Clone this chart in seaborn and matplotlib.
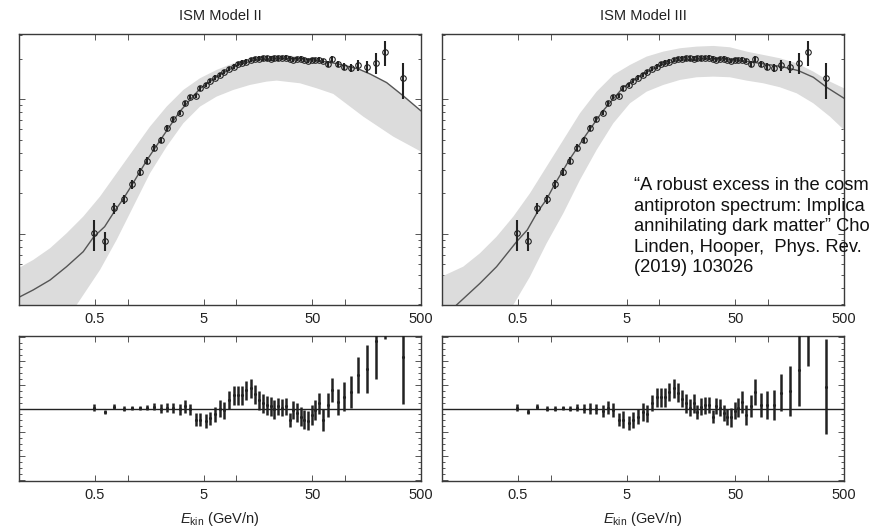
import numpy as np
import matplotlib
matplotlib.use("Agg")
import matplotlib.pyplot as plt
import seaborn as sns
from matplotlib.ticker import (FixedLocator, FixedFormatter, LogLocator,
                               MultipleLocator, NullFormatter, NullLocator)

sns.set_style("ticks")
plt.rcParams['font.family'] = ['Liberation Sans', 'DejaVu Sans']
plt.rcParams['mathtext.fontset'] = 'custom'
plt.rcParams['mathtext.rm'] = 'Liberation Sans'
plt.rcParams['mathtext.it'] = 'Liberation Sans:italic'

# ---------------- data ----------------
energy = [0.486, 0.614, 0.753, 0.918, 1.095, 1.288, 1.505, 1.746, 2.02, 2.30,
          2.63, 3.01, 3.39, 3.77, 4.25, 4.66, 5.21, 5.75, 6.35, 7.02,
          7.69, 8.61, 9.44, 10.35, 11.34, 12.35, 13.52, 14.93, 16.14, 17.58,
          19.0, 20.7, 22.35, 24.3, 26.3, 28.4, 30.9, 33.4, 36.1, 39.3,
          42.2, 45.9, 49.3, 52.9, 57.2, 62.2, 70.1, 75.8, 86.7, 98.4,
          113.5, 132.5, 158, 191, 233, 344]

flux = [1.011, 0.892, 1.551, 1.809, 2.337, 2.903, 3.503, 4.374, 4.986, 6.087,
        7.101, 7.958, 9.335, 10.34, 10.64, 12.06, 12.77, 13.67, 14.48, 15.15,
        15.86, 16.70, 17.47, 18.18, 18.71, 19.03, 19.58, 19.92, 20.03, 20.14,
        20.14, 20.03, 20.14, 20.14, 20.26, 20.38, 20.03, 19.58, 19.92, 20.03,
        19.47, 19.24, 19.47, 19.58, 19.70, 19.24, 18.29, 19.92, 18.18, 17.47,
        17.17, 17.87, 17.47, 18.71, 22.32, 14.39]

flux_err = [0.259, 0.142, 0.150, 0.144, 0.186, 0.199, 0.220, 0.249, 0.284, 0.312,
            0.324, 0.363, 0.372, 0.38, 0.39, 0.45, 0.47, 0.51, 0.54, 0.56,
            0.59, 0.62, 0.65, 0.67, 0.69, 0.70, 0.72, 0.74, 0.74, 0.75,
            0.75, 0.74, 0.75, 0.75, 0.75, 0.76, 0.74, 0.72, 0.74, 0.74,
            0.72, 0.71, 0.72, 0.72, 0.73, 0.71, 0.83, 0.91, 0.93, 1.0,
            1.17, 1.53, 1.69, 3.3, 4.58, 4.27]

res2 = [0.008, -0.028, 0.014, 0.0, 0.006, 0.006, 0.008, 0.014, 0.0, 0.008,
        0.008, -0.008, 0.019, -0.008, -0.092, -0.092, -0.103, -0.083, -0.050, 0.0,
        -0.014, 0.075, 0.111, 0.111, 0.111, 0.153, 0.167, 0.119, 0.069, 0.042,
        0.028, 0.019, -0.008, 0.019, 0.008, 0.019, -0.097, -0.014, -0.036, -0.069,
        -0.092, -0.103, -0.056, -0.014, 0.042, -0.097, 0.028, 0.153, 0.056, 0.097,
        0.139, 0.278, 0.333, 0.564, 0.70, 0.431]
res2_err = [0.032, 0.019, 0.021, 0.019, 0.019, 0.019, 0.019, 0.028, 0.035, 0.039,
            0.042, 0.049, 0.056, 0.049, 0.056, 0.056, 0.056, 0.057, 0.060, 0.072,
            0.072, 0.075, 0.080, 0.080, 0.080, 0.080, 0.080, 0.080, 0.080, 0.080,
            0.080, 0.080, 0.080, 0.070, 0.070, 0.070, 0.060, 0.075, 0.080, 0.080,
            0.080, 0.080, 0.085, 0.085, 0.090, 0.090, 0.100, 0.100, 0.110, 0.120,
            0.135, 0.150, 0.200, 0.320, 0.120, 0.390]

res3 = [0.008, -0.028, 0.014, 0.0, 0.0, 0.006, 0.0, 0.008, 0.0, 0.0,
        -0.008, -0.019, 0.008, -0.014, -0.092, -0.092, -0.119, -0.097, -0.069, -0.028,
        -0.042, 0.042, 0.092, 0.092, 0.092, 0.139, 0.167, 0.131, 0.083, 0.042,
        0.008, 0.042, -0.028, 0.014, 0.028, 0.028, -0.069, 0.019, 0.008, -0.036,
        -0.069, -0.075, -0.019, 0.008, 0.056, -0.056, 0.019, 0.139, 0.028, 0.028,
        0.028, 0.131, 0.147, 0.325, 0.625, 0.181]
res3_err = [0.032, 0.021, 0.021, 0.019, 0.019, 0.019, 0.019, 0.028, 0.036, 0.042,
            0.042, 0.049, 0.056, 0.056, 0.053, 0.069, 0.060, 0.065, 0.061, 0.076,
            0.074, 0.067, 0.079, 0.079, 0.079, 0.074, 0.078, 0.078, 0.072, 0.079,
            0.069, 0.076, 0.060, 0.070, 0.070, 0.064, 0.053, 0.069, 0.072, 0.069,
            0.069, 0.081, 0.072, 0.076, 0.090, 0.083, 0.094, 0.111, 0.100, 0.118,
            0.125, 0.153, 0.208, 0.300, 0.270, 0.395]

# Model II curve and band
m2_E = [0.0985, 0.135, 0.193, 0.274, 0.390, 0.486, 0.614, 0.753, 0.918, 1.095,
        1.505, 2.02, 3.01, 4.66, 7.02, 10.35, 14.93, 24.3, 39.3, 57.2,
        86.7, 132.5, 169.7, 241.5, 344, 500]
m2_F = [0.337, 0.384, 0.455, 0.572, 0.739, 0.95, 1.133, 1.465, 1.840, 2.311,
        3.543, 5.044, 8.09, 12.06, 15.15, 17.97, 19.58, 20.14, 20.03, 19.36,
        18.29, 16.79, 15.41, 13.29, 10.58, 8.19]
b2u_E = [0.0985, 0.135, 0.193, 0.274, 0.390, 0.556, 0.791, 1.126, 1.604, 2.283,
         3.25, 4.627, 6.58, 9.37, 13.34, 18.99, 27.04, 38.5, 54.8, 78.0,
         132.5, 169.7, 241.5, 344, 500]
b2u_F = [0.556, 0.641, 0.783, 1.011, 1.345, 1.893, 2.821, 4.203, 6.263, 8.818,
         11.72, 14.31, 16.50, 18.49, 20.14, 20.96, 21.33, 20.73, 19.58, 18.29,
         16.79, 15.41, 13.29, 10.58, 8.19]
b2l_E = [0.0985, 0.238, 0.339, 0.556, 0.791, 1.126, 1.604, 2.283, 3.25, 4.627,
         6.58, 9.37, 13.34, 18.99, 23.5, 38.5, 54.8, 78.0, 147.3, 278, 500]
b2l_F = [0.0586, 0.183, 0.297, 0.540, 0.903, 1.595, 2.821, 4.449, 6.63, 8.818,
         10.46, 11.72, 12.77, 13.52, 13.75, 13.14, 12.06, 10.95, 7.43, 5.28, 4.085]

# Model III curve and band
m3_E = [0.0957, 0.136, 0.2235, 0.318, 0.486, 0.609, 0.753, 0.918, 1.080, 1.495,
        2.011, 2.986, 4.66, 7.12, 10.42, 14.74, 24.5, 38.8, 56.8, 84.3,
        133.5, 190, 261, 346, 500]
m3_F = [0.211, 0.297, 0.430, 0.572, 0.877, 1.071, 1.448, 1.809, 2.311, 3.584,
        5.13, 8.09, 12.27, 15.41, 17.97, 19.36, 20.03, 19.92, 19.36, 18.49,
        17.47, 16.31, 14.56, 12.27, 10.17]
b3u_E = [0.0992, 0.157, 0.2235, 0.318, 0.453, 0.645, 0.918, 1.307, 1.860, 2.648,
         3.77, 5.37, 7.64, 10.88, 15.48, 22.04, 31.4, 44.6, 63.6, 90.5,
         128.8, 183.4, 261, 371.6, 500]
b3u_F = [0.482, 0.572, 0.719, 0.955, 1.345, 2.004, 3.162, 4.986, 7.87, 11.39,
         15.15, 17.97, 20.73, 22.58, 23.90, 24.59, 24.87, 24.31, 22.58, 21.33,
         20.14, 18.49, 16.04, 13.52, 12.06]
b3l_E = [0.0992, 0.318, 0.453, 0.645, 0.918, 1.307, 1.860, 2.648, 3.77, 5.37,
         7.64, 10.88, 15.48, 22.04, 31.4, 44.6, 63.6, 90.5, 128.8, 183.4,
         261, 371.6, 500]
b3l_F = [0.0586, 0.183, 0.297, 0.482, 0.852, 1.423, 2.517, 4.203, 6.63, 9.335,
         11.39, 12.77, 13.91, 14.56, 14.72, 14.56, 13.75, 13.14, 12.27, 11.07,
         9.335, 7.43, 5.92]

titles = ["ISM Model II", "ISM Model III"]
xtick_vals = [0.1, 0.5, 1, 5, 10, 50, 100, 500]
xtick_labels = ["", "0.5", "", "5", "", "50", "", "500"]
# the citation as visible in the reference (it runs off the right edge there)
note_lines = ["\u201cA robust excess in the cosm",
              "antiproton spectrum: Implica",
              "annihilating dark matter\u201d Cho",
              "Linden, Hooper,  Phys. Rev.",
              "(2019) 103026"]

# ---------------- figure ----------------
W, H = 870, 530
fig = plt.figure(figsize=(W / 100, H / 100), dpi=100)
fig.patch.set_facecolor("white")


def box(l, t, r, b):
    return [l / W, 1 - b / H, (r - l) / W, (b - t) / H]


ax_tl = fig.add_axes(box(19, 34, 421, 305))
ax_tr = fig.add_axes(box(442, 34, 844, 305))
ax_bl = fig.add_axes(box(19, 336, 421, 481))
ax_br = fig.add_axes(box(442, 336, 844, 481))

TXT = "#222222"
BAND = "#dcdcdc"
LINE = "#555555"


def style_common(ax):
    ax.set_xscale("log")
    ax.set_xlim(0.1, 500)
    ax.xaxis.set_major_locator(FixedLocator(xtick_vals))
    ax.xaxis.set_major_formatter(FixedFormatter(xtick_labels))
    ax.xaxis.set_minor_locator(NullLocator())
    for sp in ax.spines.values():
        sp.set_color("#3a3a3a")
        sp.set_linewidth(1.0)
    ax.tick_params(which="both", direction="in", top=True, right=True,
                   color="#555555", width=0.7, labelsize=10.5,
                   labelcolor=TXT, pad=5)
    ax.tick_params(which="major", length=4)
    ax.tick_params(which="minor", length=2.5)
    ax.tick_params(axis="y", labelleft=False)


for ax, title, mE, mF, uE, uF, lE, lF in [
        (ax_tl, titles[0], m2_E, m2_F, b2u_E, b2u_F, b2l_E, b2l_F),
        (ax_tr, titles[1], m3_E, m3_F, b3u_E, b3u_F, b3l_E, b3l_F)]:
    style_common(ax)
    ax.set_yscale("log")
    ax.set_ylim(0.297, 30.5)
    ax.yaxis.set_major_locator(LogLocator(base=10))
    ax.yaxis.set_minor_locator(LogLocator(base=10, subs=np.arange(2, 10)))
    ax.yaxis.set_major_formatter(NullFormatter())
    ax.yaxis.set_minor_formatter(NullFormatter())
    ax.fill(np.r_[uE, lE[::-1]], np.r_[uF, lF[::-1]], color=BAND, lw=0,
            zorder=1)
    sns.lineplot(x=mE, y=mF, ax=ax, color=LINE, lw=1.0, estimator=None,
                 sort=False, legend=False, zorder=2)
    ax.errorbar(energy, flux, yerr=flux_err, fmt="o", ms=4, mfc="none",
                mec="#222222", mew=0.8, ecolor="#222222", elinewidth=1.5,
                capsize=0, zorder=3)
    ax.set_title(title, fontsize=10.5, color=TXT, pad=10)
    ax.set_xlabel("")
    ax.set_ylabel("")

for ax, res, err in [(ax_bl, res2, res2_err), (ax_br, res3, res3_err)]:
    style_common(ax)
    ax.set_ylim(-0.605, 0.605)
    ax.yaxis.set_major_locator(MultipleLocator(0.2))
    ax.yaxis.set_minor_locator(MultipleLocator(0.05))
    ax.yaxis.set_major_formatter(NullFormatter())
    ax.axhline(0, color="#222222", lw=1.0, zorder=2)
    ax.errorbar(energy, res, yerr=err, fmt="none", ecolor="#222222",
                elinewidth=1.8, capsize=0, zorder=3)
    sns.scatterplot(x=energy, y=res, ax=ax, color="#222222", s=5,
                    marker="o", linewidth=0, zorder=4, legend=False)
    ax.set_xlabel(r"$E_{\mathrm{kin}}$ (GeV/n)", fontsize=10.5, color=TXT,
                  labelpad=6)
    ax.set_ylabel("")

fig.text(634 / W, 1 - 177 / H, "\n".join(note_lines), fontsize=13.2,
         ha="left", va="top", linespacing=1.27, color="#111111")

fig.savefig("out.png", dpi=100, facecolor="white")
